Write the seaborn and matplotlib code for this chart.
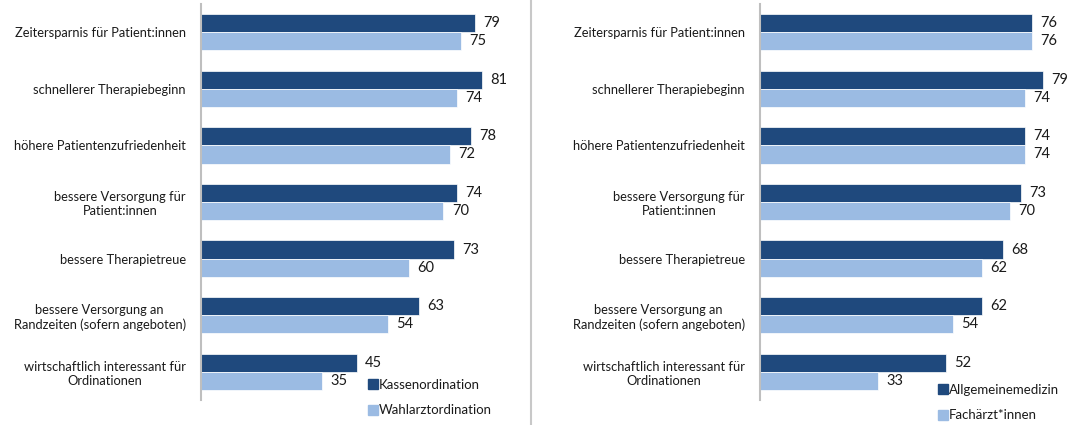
import matplotlib
matplotlib.use("Agg")
import matplotlib.pyplot as plt
import seaborn as sns
import pandas as pd
from matplotlib.lines import Line2D

categories = [
    "Zeitersparnis für Patient:innen",
    "schnellerer Therapiebeginn",
    "höhere Patientenzufriedenheit",
    "bessere Versorgung für\nPatient:innen",
    "bessere Therapietreue",
    "bessere Versorgung an\nRandzeiten (sofern angeboten)",
    "wirtschaftlich interessant für\nOrdinationen",
]
left_series = ["Kassenordination", "Wahlarztordination"]
left_kasse = [79, 81, 78, 74, 73, 63, 45]
left_wahl = [75, 74, 72, 70, 60, 54, 35]
right_series = ["Allgemeinemedizin", "Fachärzt*innen"]
right_allg = [76, 79, 74, 73, 68, 62, 52]
right_fach = [76, 74, 74, 70, 62, 54, 33]

DARK = "#1F497D"
LIGHT = "#9BBBE3"
TXT = "#1a1a1a"
AXC = "#bfbfbf"

sns.set_theme(style="white")
plt.rcParams["font.family"] = ["Lato", "DejaVu Sans"]

W, H = 1068, 425
fig = plt.figure(figsize=(W / 100, H / 100), dpi=100)


def px_axes(x0, y0, x1, y1):
    return fig.add_axes([x0 / W, 1 - y1 / H, (x1 - x0) / W, (y1 - y0) / H])


def make_df(a, b, names):
    rows = []
    for c, va, vb in zip(categories, a, b):
        rows.append((c, names[0], va))
        rows.append((c, names[1], vb))
    return pd.DataFrame(rows, columns=["cat", "series", "value"])


def draw(ax, df, names, xmax, leg_xy):
    sns.barplot(data=df, y="cat", x="value", hue="series", orient="h",
                order=categories, hue_order=names,
                palette=[DARK, LIGHT], width=0.64, ax=ax,
                edgecolor="white", linewidth=0.5, saturation=1)
    ax.set_xlim(0, xmax)
    ax.set_ylim(6.5, -0.5)
    ax.set_xlabel("")
    ax.set_ylabel("")
    ax.set_xticks([])
    for s in ["top", "right", "bottom"]:
        ax.spines[s].set_visible(False)
    ax.spines["left"].set_color(AXC)
    ax.spines["left"].set_linewidth(1.5)
    ax.tick_params(axis="y", length=0, pad=11, labelsize=9.3, labelcolor=TXT)
    for lab in ax.get_yticklabels():
        lab.set_multialignment("center")
    for cont in ax.containers:
        ax.bar_label(cont, padding=6, fontsize=10.5, color=TXT)
    if ax.get_legend() is not None:
        ax.get_legend().remove()
    handles = [Line2D([0], [0], marker="s", linestyle="", markersize=7.5,
                      markerfacecolor=col, markeredgecolor=col)
               for col in (DARK, LIGHT)]
    fig.legend(handles, names, loc="upper left",
               bbox_to_anchor=(leg_xy[0] / W, 1 - leg_xy[1] / H),
               frameon=False, fontsize=9.5, handlelength=0.6, handletextpad=0.15,
               labelspacing=1.0, borderpad=0, borderaxespad=0,
               labelcolor=TXT)


axL = px_axes(201, 4, 530, 400)
draw(axL, make_df(left_kasse, left_wahl, left_series), left_series, 95, (369, 379))

axR = px_axes(760, 4, 1064, 400)
draw(axR, make_df(right_allg, right_fach, right_series), right_series, 85, (939, 384))

fig.add_artist(Line2D([531 / W, 531 / W], [0, 1], color="#c8c8c8", linewidth=1.5,
                      transform=fig.transFigure))

fig.savefig("out.png", dpi=100)
